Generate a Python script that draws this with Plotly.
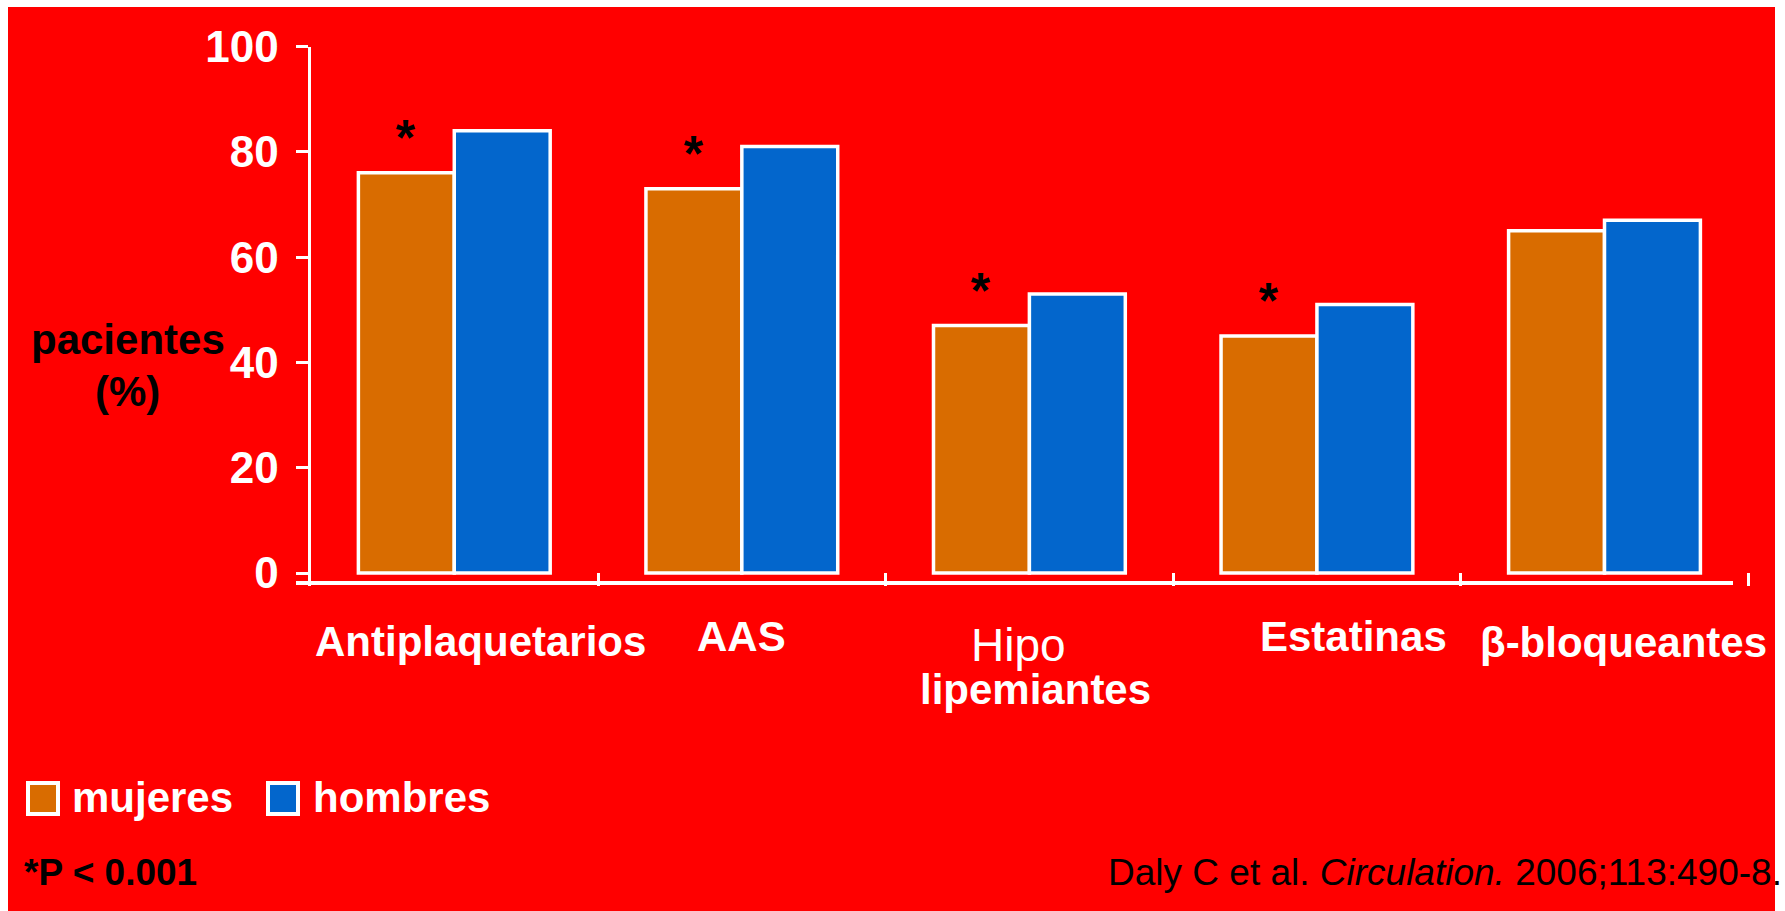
import plotly.graph_objects as go

# ---- data -------------------------------------------------------------
categories = ["Antiplaquetarios", "AAS", "Hipo\nlipemiantes", "Estatinas", "β-bloqueantes"]
mujeres = [76, 73, 47, 45, 65]
hombres = [84, 81, 53, 51, 67]
significant = [True, True, True, True, False]
series_names = ["mujeres", "hombres"]
y_ticks = [0, 20, 40, 60, 80, 100]
y_title_lines = ["pacientes", "(%)"]
footnote = "*P < 0.001"
citation = "Daly C et al. <i>Circulation.</i> 2006;113:490-8."

# ---- page geometry / styling -------------------------------------------
W, H = 1785, 911
FONT = "Liberation Sans, Arial, sans-serif"
RED = "#FF0000"
ORANGE = "#D96C00"
BLUE = "#0366CC"
WHITE = "#FFFFFF"
BAR_COLORS = [ORANGE, BLUE]


def px(x):
    return x / W


def py(y):
    return 1 - y / H


# per-line label layout: (x offset from category centre, y centre in px, size, weight)
label_layout = [
    [(26, 641, 42, "bold")],
    [(0, 636, 42, "bold")],
    [(-11, 645, 46, "normal"), (6, 689, 42, "bold")],
    [(37, 636, 42, "bold")],
    [(19, 642, 42, "bold")],
]

keys = [c.replace("\n", " ") for c in categories]

fig = go.Figure()
for name, vals, color in zip(series_names, [mujeres, hombres], BAR_COLORS):
    fig.add_trace(go.Bar(
        x=keys, y=vals, name=name,
        marker=dict(color=color, line=dict(color=WHITE, width=3.5)),
        showlegend=False, hoverinfo="x+y+name",
    ))

shapes = [
    # red slide background with a thin white margin
    dict(type="rect", xref="paper", yref="paper", x0=px(8), x1=px(1775),
         y0=py(911), y1=py(7), fillcolor=RED, line=dict(width=0), layer="below"),
    # baseline of the chart
    dict(type="line", xref="paper", yref="paper", x0=px(296), x1=px(1733),
         y0=py(583), y1=py(583), line=dict(color=WHITE, width=4), layer="above"),
]

annotations = []

# category labels below the axis
for key, lines, layout in zip(keys, categories, label_layout):
    for text, (dx, yc, size, weight) in zip(lines.split("\n"), layout):
        annotations.append(dict(
            x=key, xref="x", xshift=dx, y=py(yc), yref="paper",
            text=text, showarrow=False, xanchor="center", yanchor="middle",
            font=dict(family=FONT, size=size, color=WHITE, weight=weight),
        ))

# significance marks above the women's bars
for key, val, sig in zip(keys, mujeres, significant):
    if sig:
        annotations.append(dict(
            x=key, xref="x", xshift=-48, y=val, yref="y", yshift=5,
            text="*", showarrow=False, xanchor="center", yanchor="bottom",
            font=dict(family=FONT, size=50, color="black", weight="bold"),
        ))

# y axis title (two lines)
for text, yc in zip(y_title_lines, [339, 391]):
    annotations.append(dict(
        x=px(128), xref="paper", y=py(yc), yref="paper", text=text,
        showarrow=False, xanchor="center", yanchor="middle",
        font=dict(family=FONT, size=42, color="black", weight="bold"),
    ))

# legend: coloured squares with labels
legend_boxes = [(28, 58), (268, 298)]
legend_text_x = [70, 311]
for name, color, (x0, x1), tx in zip(series_names, BAR_COLORS, legend_boxes, legend_text_x):
    shapes.append(dict(type="rect", xref="paper", yref="paper",
                       x0=px(x0), x1=px(x1), y0=py(814), y1=py(783),
                       fillcolor=color, line=dict(color=WHITE, width=4)))
    annotations.append(dict(
        x=px(tx), xref="paper", y=py(797), yref="paper", text=name,
        showarrow=False, xanchor="left", yanchor="middle",
        font=dict(family=FONT, size=42, color=WHITE, weight="bold"),
    ))

# footnote and reference
annotations.append(dict(
    x=px(22), xref="paper", y=py(872), yref="paper", text=footnote,
    showarrow=False, xanchor="left", yanchor="middle",
    font=dict(family=FONT, size=37, color="black", weight="bold"),
))
annotations.append(dict(
    x=px(1784), xref="paper", y=py(872), yref="paper", text=citation,
    showarrow=False, xanchor="right", yanchor="middle",
    font=dict(family=FONT, size=37, color="black"),
))

fig.update_layout(
    width=W, height=H,
    margin=dict(l=0, r=0, t=0, b=0, autoexpand=False),
    paper_bgcolor=WHITE, plot_bgcolor="rgba(0,0,0,0)",
    barmode="group", bargap=0.333, bargroupgap=0,
    shapes=shapes, annotations=annotations,
    xaxis=dict(
        domain=[px(310.5), px(1750)], range=[-0.5, 4.506],
        showline=False, showgrid=False, zeroline=False, automargin=False,
        showticklabels=False, ticks="inside", tickson="boundaries",
        ticklen=13, tickwidth=3, tickcolor=WHITE,
    ),
    yaxis=dict(
        domain=[py(586), py(46.5)], range=[-2.47, 100],
        tickmode="array", tickvals=y_ticks, automargin=False,
        showline=True, linewidth=3, linecolor=WHITE,
        showgrid=False, zeroline=False,
        ticks="outside", ticklen=12, tickwidth=3, tickcolor=WHITE,
        tickfont=dict(family=FONT, size=44, color=WHITE, weight="bold"),
        ticklabelstandoff=8,
    ),
)

fig.write_html("out.html")
